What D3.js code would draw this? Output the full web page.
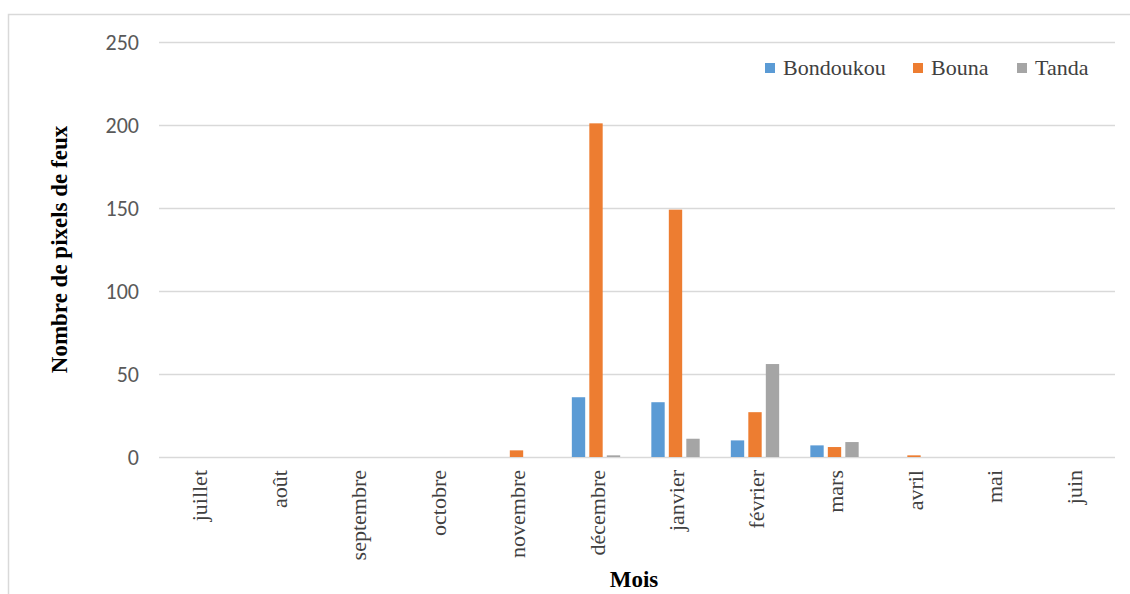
<!DOCTYPE html>
<html>
<head>
<meta charset="utf-8">
<script src="https://cdn.jsdelivr.net/npm/d3@7/dist/d3.min.js"></script>
<style>
  html, body { margin: 0; padding: 0; background: #fff; }
  svg { display: block; }
</style>
</head>
<body>
<svg id="chart" width="1130" height="594"></svg>
<script>
// Monthly fire-pixel counts per department
const months = ["juillet", "août", "septembre", "octobre", "novembre", "décembre",
                "janvier", "février", "mars", "avril", "mai", "juin"];
const seriesNames = ["Bondoukou", "Bouna", "Tanda"];
const bondoukou = [0, 0, 0, 0, 0, 36, 33, 10, 7, 0, 0, 0];
const bouna     = [0, 0, 0, 0, 4, 201, 149, 27, 6, 1, 0, 0];
const tanda     = [0, 0, 0, 0, 0, 1, 11, 56, 9, 0, 0, 0];
const yTicks = [0, 50, 100, 150, 200, 250];
const colors = ["#5B9BD5", "#ED7D31", "#A5A5A5"];

const seriesValues = [bondoukou, bouna, tanda];

const svg = d3.select("#chart");
const margin = { left: 160, right: 1114, top: 42, bottom: 457 };
const serif = "'Liberation Serif', 'Times New Roman', serif";

// outer frame
svg.append("rect")
  .attr("x", 8.5).attr("y", 14.5)
  .attr("width", 1130).attr("height", 600)
  .attr("fill", "none").attr("stroke", "#d9d9d9").attr("stroke-width", 1.5);

const x = d3.scaleBand().domain(months).range([margin.left, margin.right]).padding(0);
const y = d3.scaleLinear().domain([0, 250]).range([margin.bottom, margin.top]);

// grid lines + y tick labels
const yAxis = d3.axisLeft(y).tickValues(yTicks).tickSize(-(margin.right - margin.left + 2)).tickPadding(20);
const gy = svg.append("g").attr("transform", `translate(${margin.left - 1},0)`).call(yAxis);
gy.select(".domain").remove();
gy.selectAll(".tick line").attr("stroke", "#d9d9d9").attr("stroke-width", 1.3);
gy.selectAll(".tick text")
  .attr("fill", "#595959")
  .style("font-family", "Carlito, Lato, 'Open Sans', sans-serif")
  .style("font-size", "22px");

// bars: three series per month
const bw = x.bandwidth();
const barW = bw * 0.168;
const pitch = bw * 0.22;
const inner = d3.scaleOrdinal().domain(seriesNames).range([-pitch, 0, pitch]);

seriesNames.forEach((name, si) => {
  svg.append("g").selectAll("rect")
    .data(months.map((m, i) => ({ m, v: seriesValues[si][i] })))
    .join("rect")
    .attr("x", d => x(d.m) + bw / 2 - 1.25 + inner(name) - barW / 2)
    .attr("y", d => y(d.v))
    .attr("width", barW)
    .attr("height", d => y(0) - y(d.v))
    .attr("fill", colors[si]);
});

// x axis labels, rotated
const xAxis = d3.axisBottom(x).tickSize(0).tickPadding(0);
const gx = svg.append("g").attr("transform", `translate(0,${margin.bottom})`).call(xAxis);
gx.select(".domain").remove();
gx.selectAll(".tick text")
  .attr("transform", "translate(0,13) rotate(-90)")
  .attr("text-anchor", "end")
  .attr("dy", "0.35em")
  .attr("x", 0).attr("y", 0)
  .attr("fill", "#404040")
  .style("font-family", serif)
  .style("font-size", "22px");

// axis titles
svg.append("text")
  .attr("transform", `translate(67,${(margin.top + margin.bottom) / 2}) rotate(-90)`)
  .attr("text-anchor", "middle")
  .style("font-family", serif)
  .style("font-size", "23px").style("font-weight", "bold")
  .attr("fill", "#000")
  .text("Nombre de pixels de feux");

svg.append("text")
  .attr("x", (margin.left + margin.right) / 2 - 3).attr("y", 587)
  .attr("text-anchor", "middle")
  .style("font-family", serif)
  .style("font-size", "23px").style("font-weight", "bold")
  .attr("fill", "#000")
  .text("Mois");

// legend
const legendX = [765, 913, 1017];
const lg = svg.append("g");
seriesNames.forEach((name, i) => {
  lg.append("rect")
    .attr("x", legendX[i]).attr("y", 63)
    .attr("width", 10).attr("height", 10)
    .attr("fill", colors[i]);
  lg.append("text")
    .attr("x", legendX[i] + 18).attr("y", 75)
    .style("font-family", serif)
    .style("font-size", "22px")
    .attr("fill", "#404040")
    .text(name);
});
</script>
</body>
</html>
